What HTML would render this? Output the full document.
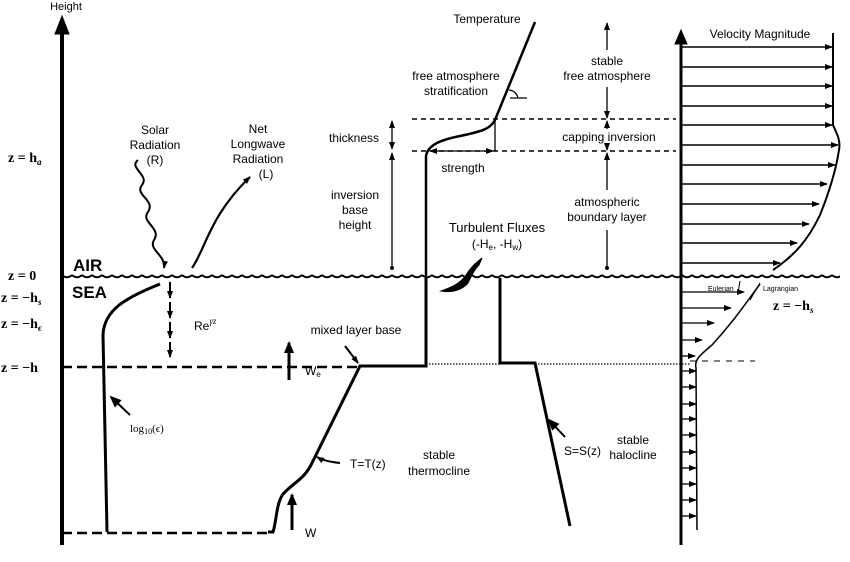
<!DOCTYPE html>
<html><head><meta charset="utf-8"><style>
html,body{margin:0;padding:0;background:#fff;}
svg{display:block;font-family:"Liberation Sans",sans-serif;}
.s{font-family:"Liberation Serif",serif;}
</style></head><body>
<svg width="850" height="562" viewBox="0 0 850 562" xmlns="http://www.w3.org/2000/svg">
<defs>
<marker id="a" markerWidth="8" markerHeight="8" refX="7" refY="4" orient="auto-start-reverse" markerUnits="userSpaceOnUse"><path d="M0,1 L8,4 L0,7 Z" fill="#000"/></marker>
<marker id="b" markerWidth="12" markerHeight="12" refX="10" refY="6" orient="auto" markerUnits="userSpaceOnUse"><path d="M0,1 L12,6 L0,11 Z" fill="#000"/></marker>
<pattern id="w" width="10" height="8" patternUnits="userSpaceOnUse" x="62" y="272"><path d="M0,3 Q5,7.5 10,3" fill="none" stroke="#000" stroke-width="2"/></pattern>
</defs>
<g fill="none" stroke="#000">
<line x1="62" y1="545" x2="62" y2="32" stroke-width="4"/>
<path d="M55,34 L62,16 L69,34 Z" fill="#000"/>
<rect x="62" y="271" width="778" height="9" fill="url(#w)" stroke="none"/>
<path d="M138,160 C128,168 150,175 142,185 C134,195 156,200 148,212 C140,222 162,228 154,240 C148,250 166,255 164,268" stroke-width="2" marker-end="url(#a)"/>
<path d="M192,268 C205,250 210,215 250,177" stroke-width="2.2" marker-end="url(#a)"/>
<g stroke-width="2"><line x1="170" y1="282" x2="170" y2="298" marker-end="url(#a)"/><line x1="170" y1="302" x2="170" y2="318" marker-end="url(#a)"/><line x1="170" y1="322" x2="170" y2="338" marker-end="url(#a)"/><line x1="170" y1="342" x2="170" y2="357" marker-end="url(#a)"/></g>
<path d="M160,284 C125,298 104,310 103,335 L107,532" stroke-width="3"/>
<line x1="130" y1="415" x2="111" y2="397" stroke-width="2" marker-end="url(#b)"/>
<line x1="62" y1="367" x2="358" y2="367" stroke-width="2.5" stroke-dasharray="10,5"/>
<line x1="62" y1="533" x2="268" y2="533" stroke-width="2.5" stroke-dasharray="10,5"/>
<line x1="289" y1="380" x2="289" y2="343" stroke-width="3" marker-end="url(#b)"/>
<line x1="292" y1="530" x2="292" y2="495" stroke-width="3" marker-end="url(#b)"/>
<line x1="345" y1="346" x2="358" y2="363" stroke-width="2" marker-end="url(#a)"/>
<path d="M268,532 L273,532 C277,520 276,500 285,492 C295,482 305,478 312,463 L360,366 L426,366 L426,278" stroke-width="3"/>
<path d="M340,463 C330,462 322,460 317,457" stroke-width="2" marker-end="url(#a)"/>
<path d="M500,278 L500,363 L535,363 L570,526" stroke-width="3"/>
<line x1="565" y1="437" x2="549" y2="420" stroke-width="2" marker-end="url(#b)"/>
<line x1="426" y1="364" x2="500" y2="364" stroke-width="1.2" stroke-dasharray="1.5,1.5"/>
<line x1="535" y1="364" x2="690" y2="364" stroke-width="1.2" stroke-dasharray="1.5,1.5"/>
<line x1="690" y1="361" x2="755" y2="361" stroke-width="1" stroke-dasharray="6,6"/>
<path d="M441,291 C452,287 462,283 468,272 C472,266 477,262 482,258 L479,265 C474,270 472,275 468,283 C462,290 452,293 441,291 Z" fill="#000" stroke-width="1"/>
<line x1="412" y1="119" x2="676" y2="119" stroke-width="1.5" stroke-dasharray="5,4"/>
<line x1="412" y1="151" x2="676" y2="151" stroke-width="1.5" stroke-dasharray="5,4"/>
<path d="M426,276 L426,156 C428,145 440,140 460,136 C478,132 490,130 495,120 L535,22" stroke-width="2.5"/>
<line x1="495" y1="120" x2="495" y2="151" stroke-width="1.3"/>
<line x1="430" y1="151" x2="493" y2="151" stroke-width="1.3" marker-start="url(#a)" marker-end="url(#a)"/>
<path d="M509,90 A10,10 0 0 1 518,98" stroke-width="1.3"/>
<line x1="510" y1="98" x2="527" y2="98" stroke-width="1.3"/>
<line x1="392" y1="121" x2="392" y2="149" stroke-width="1.3" marker-start="url(#a)" marker-end="url(#a)"/>
<line x1="392" y1="153" x2="392" y2="268" stroke-width="1.3" marker-start="url(#a)"/>
<circle cx="392" cy="268" r="1.5" fill="#000"/>
<line x1="607" y1="50" x2="607" y2="23" stroke-width="1.3" marker-end="url(#a)"/>
<line x1="607" y1="87" x2="607" y2="118" stroke-width="1.3" marker-end="url(#a)"/>
<line x1="607" y1="129" x2="607" y2="121" stroke-width="1.3" marker-end="url(#a)"/>
<line x1="607" y1="145" x2="607" y2="150" stroke-width="1.3" marker-end="url(#a)"/>
<line x1="607" y1="190" x2="607" y2="153" stroke-width="1.3" marker-end="url(#a)"/>
<line x1="607" y1="230" x2="607" y2="268" stroke-width="1.3"/>
<circle cx="607" cy="268" r="1.5" fill="#000"/>
<line x1="681" y1="545" x2="681" y2="42" stroke-width="3"/>
<path d="M675,44 L681,30 L687,44 Z" fill="#000"/>
<path d="M833,33 L833,125 C836,132 841,140 839,150 C836,170 830,190 820,215 C808,240 795,255 773,270" stroke-width="2"/>
<g stroke-width="1.5">
<line x1="681" y1="47" x2="832" y2="47" marker-end="url(#a)"/>
<line x1="681" y1="67" x2="832" y2="67" marker-end="url(#a)"/>
<line x1="681" y1="86" x2="832" y2="86" marker-end="url(#a)"/>
<line x1="681" y1="106" x2="832" y2="106" marker-end="url(#a)"/>
<line x1="681" y1="125" x2="832" y2="125" marker-end="url(#a)"/>
<line x1="681" y1="145" x2="838" y2="145" marker-end="url(#a)"/>
<line x1="681" y1="165" x2="835" y2="165" marker-end="url(#a)"/>
<line x1="681" y1="184" x2="827" y2="184" marker-end="url(#a)"/>
<line x1="681" y1="204" x2="819" y2="204" marker-end="url(#a)"/>
<line x1="681" y1="224" x2="809" y2="224" marker-end="url(#a)"/>
<line x1="681" y1="243" x2="797" y2="243" marker-end="url(#a)"/>
<line x1="681" y1="263" x2="780" y2="263" marker-end="url(#a)"/>
</g>
<path d="M760,284 C748,300 735,320 712,345 C700,355 694,360 696,368 L697,530" stroke-width="1.5"/>
<g stroke-width="1.3">
<line x1="681" y1="292" x2="744" y2="292" marker-end="url(#a)"/>
<line x1="681" y1="308" x2="731" y2="308" marker-end="url(#a)"/>
<line x1="681" y1="323" x2="714" y2="323" marker-end="url(#a)"/>
<line x1="681" y1="340" x2="702" y2="340" marker-end="url(#a)"/>
<line x1="681" y1="356" x2="695" y2="356" marker-end="url(#a)"/>
<line x1="681" y1="371" x2="696" y2="371" marker-end="url(#a)"/>
<line x1="681" y1="387" x2="696" y2="387" marker-end="url(#a)"/>
<line x1="681" y1="404" x2="696" y2="404" marker-end="url(#a)"/>
<line x1="681" y1="419" x2="696" y2="419" marker-end="url(#a)"/>
<line x1="681" y1="435" x2="696" y2="435" marker-end="url(#a)"/>
<line x1="681" y1="452" x2="696" y2="452" marker-end="url(#a)"/>
<line x1="681" y1="468" x2="696" y2="468" marker-end="url(#a)"/>
<line x1="681" y1="484" x2="696" y2="484" marker-end="url(#a)"/>
<line x1="681" y1="500" x2="696" y2="500" marker-end="url(#a)"/>
<line x1="681" y1="516" x2="696" y2="516" marker-end="url(#a)"/>
</g>
<path d="M740,281 L738,293" stroke-width="1"/>
<path d="M760,283 L750,300" stroke-width="1"/>
</g>
<g font-size="12" fill="#000" text-anchor="middle">
<text x="66" y="10" font-size="11">Height</text>
<text x="155" y="134">Solar</text><text x="155" y="149">Radiation</text><text x="155" y="164">(R)</text>
<text x="258" y="133">Net</text><text x="258" y="148">Longwave</text><text x="258" y="163">Radiation</text><text x="266" y="178">(L)</text>
<text x="354" y="142">thickness</text>
<text x="355" y="199">inversion</text><text x="355" y="214">base</text><text x="355" y="229">height</text>
<text x="487" y="23">Temperature</text>
<text x="456" y="80">free atmosphere</text><text x="456" y="95">stratification</text>
<text x="463" y="172">strength</text>
<text x="607" y="65">stable</text><text x="607" y="80">free atmosphere</text>
<text x="609" y="141">capping inversion</text>
<text x="607" y="206">atmospheric</text><text x="607" y="221">boundary layer</text>
<text x="497" y="232" font-size="13">Turbulent Fluxes</text>
<text x="497" y="248">(-H<tspan font-size="8" dy="2">e</tspan><tspan dy="-2">, -H</tspan><tspan font-size="8" dy="2">w</tspan><tspan dy="-2">)</tspan></text>
<text x="760" y="38">Velocity Magnitude</text>
<text x="356" y="334">mixed layer base</text>
<text x="439" y="459">stable</text><text x="439" y="475">thermocline</text>
<text x="633" y="444">stable</text><text x="633" y="459">halocline</text>
</g>
<g font-size="12" fill="#000">
<text x="194" y="330">Re<tspan font-size="9" dy="-6" font-style="italic" class="s">γz</tspan></text>
<text x="305" y="375">W<tspan font-size="8" dy="2">e</tspan></text>
<text x="305" y="537">W</text>
<text x="350" y="468">T=T(z)</text>
<text x="564" y="455">S=S(z)</text>
<text x="130" y="432" font-size="11" class="s">log<tspan font-size="8" dy="2">10</tspan><tspan dy="-2">(ϵ)</tspan></text>
<text x="708" y="291" font-size="7">Eulerian</text>
<text x="763" y="291" font-size="7">Lagrangian</text>
<text x="73" y="271" font-size="17" font-weight="bold">AIR</text>
<text x="72" y="298" font-size="17" font-weight="bold">SEA</text>
</g>
<g font-size="14" fill="#000" class="s" font-weight="bold">
<text x="8" y="162">z = h<tspan font-size="9" dy="3" font-style="italic">a</tspan></text>
<text x="8" y="280">z = 0</text>
<text x="1" y="302">z = −h<tspan font-size="9" dy="3" font-style="italic">s</tspan></text>
<text x="1" y="328">z = −h<tspan font-size="9" dy="3" font-style="italic">ϵ</tspan></text>
<text x="1" y="372">z = −h</text>
<text x="773" y="310">z = −h<tspan font-size="9" dy="3" font-style="italic">s</tspan></text>
</g>
</svg>
</body></html>
